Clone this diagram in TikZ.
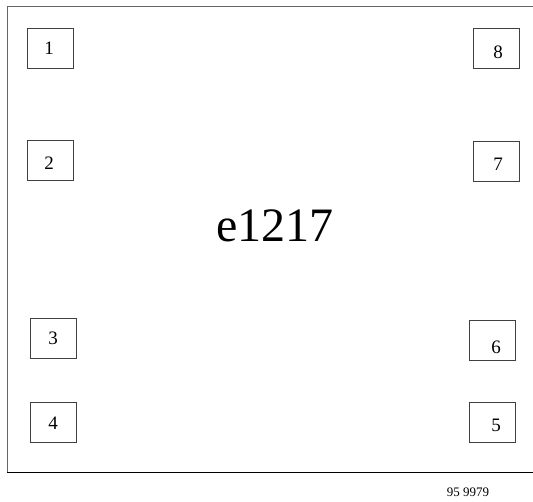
\documentclass[tikz,border=0pt]{standalone}
\usepackage{fontspec}
\setmainfont{Liberation Serif}
\begin{document}
\begin{tikzpicture}[x=1pt,y=-1pt,
  pinbox/.style={draw=black!75,line width=0.9pt,minimum width=46pt,minimum height=40pt,inner sep=0pt,outer sep=0pt},
  pinnum/.style={font=\fontsize{19}{19}\selectfont,inner sep=0pt},
  frame/.style={draw=black!60,line width=1pt}]
\useasboundingbox (0,0) rectangle (533,502);
\draw[frame] (533,7) -- (7,7) -- (7,473);
\draw[line width=1pt] (7,473) -- (533,473);
% pin boxes
\node[pinbox] (b1) at (50,48) {};
\node[pinbox] (b2) at (50,160.5) {};
\node[pinbox] (b3) at (53.5,338) {};
\node[pinbox] (b4) at (53.5,422) {};
\node[pinbox] (b5) at (492.5,422) {};
\node[pinbox] (b6) at (492.5,340.5) {};
\node[pinbox] (b7) at (496,161) {};
\node[pinbox] (b8) at (496,48) {};
% numbers
\node[pinnum] (n1) at (49,48) {1};
\node[pinnum] (n2) at (49,163) {2};
\node[pinnum] (n3) at (53,338) {3};
\node[pinnum] (n4) at (53,423) {4};
\node[pinnum] (n5) at (496,425) {5};
\node[pinnum] (n6) at (496,347) {6};
\node[pinnum] (n7) at (498,164) {7};
\node[pinnum] (n8) at (498,52) {8};
\node[font=\fontsize{48}{48}\selectfont,inner sep=0pt] (title) at (275,226) {e1217};
\node[font=\fontsize{13}{13}\selectfont,inner sep=0pt] (code) at (468,492) {95 9979};
\end{tikzpicture}
\end{document}
